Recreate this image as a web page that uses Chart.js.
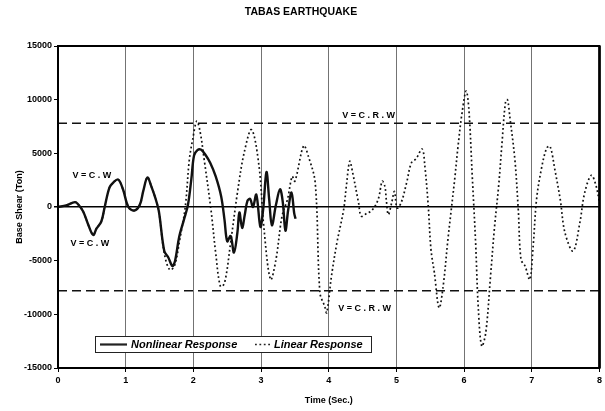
<!DOCTYPE html>
<html>
<head>
<meta charset="utf-8">
<script src="https://cdn.jsdelivr.net/npm/chart.js@4"></script>
<style>
  body { margin: 0; background: #fff; }
  canvas { display: block; }
</style>
</head>
<body>
<canvas id="shearChart" width="605" height="411"></canvas>
<script>
const chartTitle = "TABAS EARTHQUAKE";

// nonlinear base shear history (s, Ton)
const timeNonlinear = [0.00, 0.12, 0.25, 0.29, 0.37, 0.45, 0.52, 0.57, 0.64, 0.69, 0.76, 0.82, 0.89, 0.96,
    1.04, 1.13, 1.21, 1.26, 1.32, 1.38, 1.44, 1.49, 1.57, 1.63, 1.69, 1.73, 1.79, 1.86, 1.92, 1.97,
    2.01, 2.06, 2.11, 2.18, 2.25, 2.33, 2.41, 2.46, 2.50, 2.55, 2.60, 2.65, 2.68, 2.72, 2.76, 2.80,
    2.84, 2.88, 2.93, 2.99, 3.03, 3.08, 3.12, 3.16, 3.22, 3.28, 3.32, 3.36, 3.40, 3.45, 3.49, 3.51];
const shearNonlinear = [0, 150, 450, 300, -400, -1700, -2600, -2000, -1350, 0, 1800, 2300, 2550, 1650,
    0, -330, 230, 1500, 2750, 1900, 800, -400, -4100, -4700, -5500, -5000, -2800, -1200, 200, 2600,
    4800, 5300, 5350, 4850, 4100, 2850, 1000, -1200, -3200, -2700, -4250, -2400, -500, -1950, -700, 600,
    750, 0, 1150, -1850, -300, 3250, 700, -1700, 200, 1650, 500, -2200, -300, 1350, -600, -1100];

// linear (elastic) base shear history
const timeLinear = [0.00, 0.12, 0.25, 0.29, 0.37, 0.45, 0.52, 0.57, 0.64, 0.69, 0.76, 0.82, 0.89, 0.96,
    1.04, 1.13, 1.21, 1.26, 1.32, 1.38, 1.44, 1.49, 1.57, 1.65, 1.72, 1.80, 1.88, 1.94, 1.99, 2.05,
    2.10, 2.16, 2.26, 2.33, 2.40, 2.46, 2.55, 2.65, 2.75, 2.86, 2.97, 3.04, 3.14, 3.22, 3.31, 3.39,
    3.46, 3.50, 3.63, 3.70, 3.80, 3.87, 3.94, 3.97, 4.04, 4.12, 4.22, 4.26, 4.31, 4.35, 4.44, 4.48,
    4.56, 4.64, 4.73, 4.79, 4.83, 4.85, 4.88, 4.93, 4.97, 5.01, 5.07, 5.15, 5.22, 5.29, 5.38, 5.42,
    5.47, 5.51, 5.56, 5.63, 5.69, 5.76, 5.81, 5.86, 5.91, 5.97, 6.03, 6.07, 6.12, 6.17, 6.21, 6.26,
    6.32, 6.39, 6.45, 6.51, 6.56, 6.61, 6.64, 6.68, 6.75, 6.80, 6.84, 6.90, 6.97, 7.02, 7.07, 7.14,
    7.22, 7.27, 7.34, 7.42, 7.49, 7.61, 7.71, 7.78, 7.88, 7.95, 8.00];
const shearLinear = [0, 150, 450, 300, -400, -1700, -2600, -2000, -1350, 0, 1800, 2300, 2550, 1650,
    0, -330, 230, 1500, 2750, 1900, 800, -400, -4300, -5850, -5500, -3000, 0, 4400, 6300, 8000,
    7000, 4400, -250, -4300, -7400, -7100, -3350, 1300, 5050, 7200, 3800, -1800, -6750, -4900, -850, 700,
    2850, 2400, 5700, 4700, 2250, -8000, -9250, -9850, -6450, -3350, -250, 1950, 4250, 3300, 400, -850,
    -600, -300, 700, 2400, 1900, 700, -700, 400, 1450, -100, 400, 2250, 4100, 4500, 5400, 3800,
    100, -3950, -6100, -9400, -7400, -3050, -250, 2550, 5650, 8800, 10800, 9100, 2900, -3350, -9500, -12950,
    -11700, -6450, -1800, 1950, 6000, 9700, 10000, 8150, 4400, -250, -4900, -5500, -6750, -3650, 700, 3500,
    5500, 5650, 3500, 700, -2400, -4100, -1450, 1300, 2950, 1950, 400];

// V = C.R.W design shear level (both directions)
const designShear = 7800;

const xRange = [0, 8];
const yRange = [-15000, 15000];

// text notes placed in data coordinates
const noteLabels = ["V = C . W", "V = C . W", "V = C . R . W", "V = C . R . W"];
const noteTime = [0.50, 0.47, 4.59, 4.53];
const noteShear = [2900, -3400, 8500, -9450];

const seriesNames = ["Nonlinear Response", "Linear Response"];

const FONT = "'Liberation Sans', Arial, sans-serif";
Chart.defaults.font.family = FONT;
Chart.defaults.color = "#000";

const toPoints = (xs, ys) => xs.map((x, i) => ({ x: x, y: ys[i] }));

const notesPlugin = {
    id: "notes",
    afterDatasetsDraw(chart) {
        const { ctx, scales: { x, y } } = chart;
        ctx.save();
        ctx.font = "bold 9px " + FONT;
        ctx.fillStyle = "#000";
        ctx.textAlign = "center";
        ctx.textBaseline = "middle";
        noteLabels.forEach((txt, i) => {
            ctx.fillText(txt, x.getPixelForValue(noteTime[i]), y.getPixelForValue(noteShear[i]));
        });
        ctx.restore();
    }
};

// boxed legend sitting inside the lower part of the plot
const legendBoxPlugin = {
    id: "legendBox",
    afterDatasetsDraw(chart) {
        const { ctx, chartArea } = chart;
        const left = chartArea.left + 37, top = chartArea.bottom - 32;
        const w = 276, h = 16;
        ctx.save();
        ctx.fillStyle = "#fff";
        ctx.fillRect(left, top, w, h);
        ctx.strokeStyle = "#222";
        ctx.lineWidth = 1;
        ctx.strokeRect(left + 0.5, top + 0.5, w, h);
        const mid = top + h / 2 + 0.5;

        ctx.lineWidth = 2.2;
        ctx.beginPath();
        ctx.moveTo(left + 5, mid);
        ctx.lineTo(left + 32, mid);
        ctx.stroke();

        ctx.lineWidth = 1.6;
        ctx.setLineDash([1.8, 2.6]);
        ctx.beginPath();
        ctx.moveTo(left + 160, mid);
        ctx.lineTo(left + 176, mid);
        ctx.stroke();
        ctx.setLineDash([]);

        ctx.font = "italic bold 11px " + FONT;
        ctx.fillStyle = "#000";
        ctx.textBaseline = "middle";
        ctx.fillText(seriesNames[0], left + 36, mid);
        ctx.fillText(seriesNames[1], left + 179, mid);
        ctx.restore();
    }
};

const framePlugin = {
    id: "frame",
    afterDraw(chart) {
        const { ctx, chartArea: a } = chart;
        ctx.save();
        ctx.strokeStyle = "#000";
        ctx.lineWidth = 2;
        ctx.strokeRect(a.left, a.top, a.right - a.left, a.bottom - a.top);
        ctx.lineWidth = 2.5;
        ctx.beginPath();
        ctx.moveTo(a.right, a.top);
        ctx.lineTo(a.right, a.bottom);
        ctx.stroke();
        ctx.restore();
    }
};

const ctx = document.getElementById("shearChart").getContext("2d");

new Chart(ctx, {
    type: "line",
    data: {
        datasets: [
            {
                label: seriesNames[0],
                data: toPoints(timeNonlinear, shearNonlinear),
                borderColor: "#111",
                borderWidth: 2.4,
                pointRadius: 0,
                tension: 0.35,
                fill: false
            },
            {
                label: seriesNames[1],
                data: toPoints(timeLinear, shearLinear),
                borderColor: "#111",
                borderWidth: 1.7,
                borderDash: [1.8, 2.6],
                pointRadius: 0,
                tension: 0.35,
                fill: false
            },
            {
                label: "upper design level",
                data: toPoints(xRange, [designShear, designShear]),
                borderColor: "#111",
                borderWidth: 1.4,
                borderDash: [9, 5],
                pointRadius: 0
            },
            {
                label: "lower design level",
                data: toPoints(xRange, [-designShear, -designShear]),
                borderColor: "#111",
                borderWidth: 1.4,
                borderDash: [9, 5],
                pointRadius: 0
            }
        ]
    },
    options: {
        responsive: false,
        animation: false,
        devicePixelRatio: 1,
        layout: { padding: { top: 0, right: 3, bottom: 0, left: 0 } },
        plugins: {
            legend: { display: false },
            tooltip: { enabled: false },
            title: {
                display: true,
                text: chartTitle,
                color: "#000",
                font: { size: 10.5, weight: "bold" },
                padding: { top: 6, bottom: 27.4 }
            }
        },
        scales: {
            x: {
                type: "linear",
                min: xRange[0],
                max: xRange[1],
                ticks: { stepSize: 1, font: { size: 9, weight: "bold" }, color: "#000", padding: 3 },
                grid: { color: "rgba(80,80,80,0.8)", lineWidth: 1, tickLength: 4, tickColor: "#000" },
                border: { display: true, color: "#000", width: 2 },
                title: {
                    display: true,
                    text: "Time (Sec.)",
                    font: { size: 9, weight: "bold" },
                    color: "#000",
                    padding: { top: 2, bottom: 5.5 }
                },
                afterFit: (s) => { s.height = 43; }
            },
            y: {
                min: yRange[0],
                max: yRange[1],
                ticks: {
                    stepSize: 5000,
                    font: { size: 9, weight: "bold" },
                    color: "#000",
                    padding: 2,
                    callback: (v) => String(v)
                },
                grid: {
                    color: (c) => (c.tick && c.tick.value === 0 ? "#000" : "rgba(0,0,0,0)"),
                    lineWidth: (c) => (c.tick && c.tick.value === 0 ? 1.5 : 1),
                    tickLength: 4,
                    tickColor: "#000"
                },
                border: { display: true, color: "#000", width: 2 },
                title: {
                    display: true,
                    text: "Base Shear (Ton)",
                    font: { size: 9, weight: "bold" },
                    color: "#000",
                    padding: { top: 14.5, bottom: 4 }
                },
                afterFit: (s) => { s.width = 58; }
            }
        }
    },
    plugins: [notesPlugin, legendBoxPlugin, framePlugin]
});
</script>
</body>
</html>
